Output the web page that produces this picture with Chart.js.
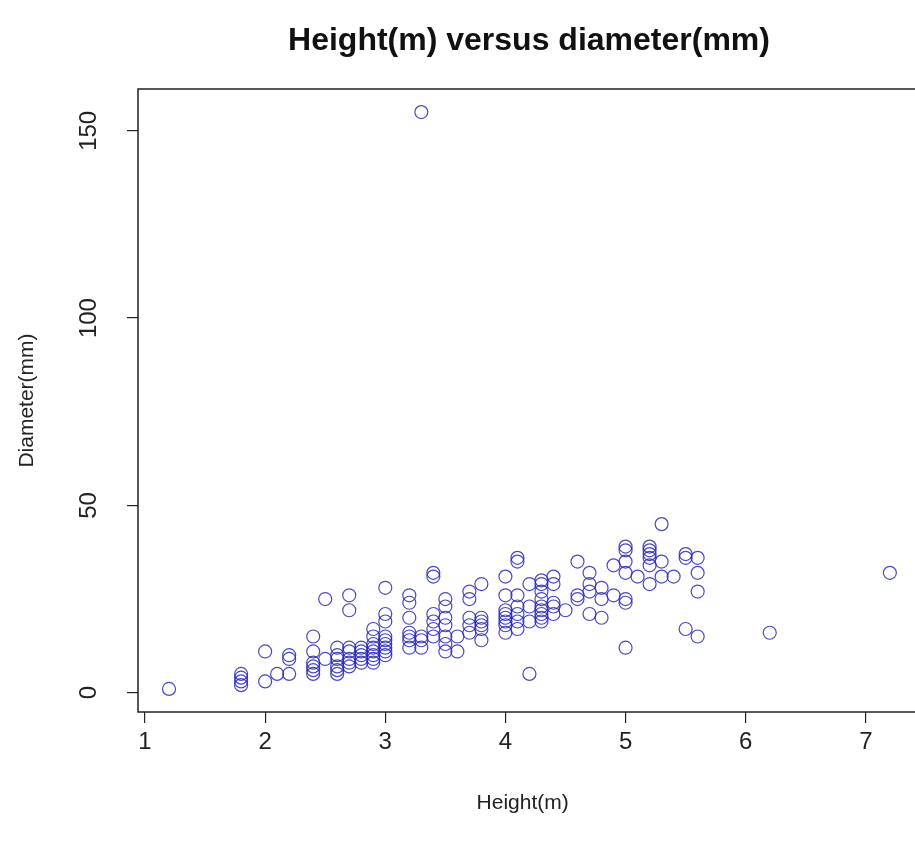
<!DOCTYPE html>
<html>
<head>
<meta charset="utf-8">
<script src="https://cdn.jsdelivr.net/npm/chart.js@4/dist/chart.umd.min.js"></script>
<style>
  html, body { margin: 0; padding: 0; background: #fff; overflow: hidden; }
  #wrap { width: 915px; height: 847px; }
</style>
</head>
<body>
<div id="wrap"><canvas id="plot"></canvas></div>
<script>
const heightM = [
    1.2,
    1.8, 1.8, 1.8, 1.8,
    2.0, 2.0,
    2.1,
    2.2, 2.2, 2.2,
    2.4, 2.4, 2.4, 2.4, 2.4, 2.4,
    2.5, 2.5,
    2.6, 2.6, 2.6, 2.6, 2.6, 2.6,
    2.7, 2.7, 2.7, 2.7, 2.7, 2.7, 2.7,
    2.8, 2.8, 2.8, 2.8, 2.8,
    2.9, 2.9, 2.9, 2.9, 2.9, 2.9, 2.9, 2.9,
    3.0, 3.0, 3.0, 3.0, 3.0, 3.0, 3.0, 3.0, 3.0,
    3.2, 3.2, 3.2, 3.2, 3.2, 3.2, 3.2,
    3.3, 3.3, 3.3, 3.3,
    3.4, 3.4, 3.4, 3.4, 3.4, 3.4,
    3.5, 3.5, 3.5, 3.5, 3.5, 3.5, 3.5,
    3.6, 3.6,
    3.7, 3.7, 3.7, 3.7, 3.7,
    3.8, 3.8, 3.8, 3.8, 3.8, 3.8,
    4.0, 4.0, 4.0, 4.0, 4.0, 4.0, 4.0, 4.0,
    4.1, 4.1, 4.1, 4.1, 4.1, 4.1, 4.1,
    4.2, 4.2, 4.2, 4.2,
    4.3, 4.3, 4.3, 4.3, 4.3, 4.3, 4.3, 4.3, 4.3,
    4.4, 4.4, 4.4, 4.4, 4.4,
    4.5,
    4.6, 4.6, 4.6,
    4.7, 4.7, 4.7, 4.7,
    4.8, 4.8, 4.8,
    4.9, 4.9,
    5.0, 5.0, 5.0, 5.0, 5.0, 5.0, 5.0,
    5.1,
    5.2, 5.2, 5.2, 5.2, 5.2, 5.2,
    5.3, 5.3, 5.3,
    5.4,
    5.5, 5.5, 5.5,
    5.6, 5.6, 5.6, 5.6,
    6.2,
    7.2
];

const diameterMm = [
    1,
    2, 3, 4, 5,
    11, 3,
    5,
    5, 9, 10,
    15, 11, 8, 7, 6, 5,
    25, 9,
    12, 10, 9, 7, 6, 5,
    26, 22, 12, 11, 9, 8, 7,
    12, 11, 10, 9, 8,
    17, 15, 13, 12, 11, 10, 9, 8,
    28, 21, 19, 15, 14, 13, 12, 11, 10,
    26, 24, 20, 16, 15, 14, 12,
    155, 15, 14, 12,
    32, 31, 21, 19, 17, 15,
    25, 23, 20, 18, 15, 13, 11,
    15, 11,
    27, 25, 20, 18, 16,
    29, 20, 19, 18, 17, 14,
    31, 26, 22, 21, 20, 19, 18, 16,
    36, 35, 26, 23, 21, 19, 17,
    29, 23, 19, 5,
    30, 29, 27, 25, 23, 22, 21, 20, 19,
    31, 29, 24, 23, 21,
    22,
    35, 26, 25,
    32, 29, 27, 21,
    28, 25, 20,
    34, 26,
    39, 38, 35, 32, 25, 24, 12,
    31,
    39, 38, 37, 36, 34, 29,
    45, 35, 31,
    31,
    37, 36, 17,
    36, 32, 27, 15,
    16,
    32
];

const xTickLabels = ['1', '2', '3', '4', '5', '6', '7'];
const yTickLabels = ['0', '50', '100', '150'];

const points = heightM.map((h, i) => ({ x: h, y: diameterMm[i] }));

const FONT = "'Liberation Sans', Arial, Helvetica, sans-serif";
const INK = '#222';

// title centred over the plot box, plus the box itself (base R look)
const rBox = {
    id: 'rBox',
    afterDraw(chart) {
        const { ctx, chartArea } = chart;
        ctx.save();
        ctx.strokeStyle = INK;
        ctx.lineWidth = 1.5;
        ctx.strokeRect(chartArea.left, chartArea.top, chartArea.right - chartArea.left + 20, chartArea.bottom - chartArea.top);
        ctx.fillStyle = '#111';
        ctx.font = 'bold 32px ' + FONT;
        ctx.textAlign = 'center';
        ctx.textBaseline = 'middle';
        ctx.fillText('Height(m) versus diameter(mm)', 529, 41);
        ctx.restore();
    }
};

new Chart(document.getElementById('plot'), {
    type: 'scatter',
    data: {
        datasets: [{
            label: 'Trees',
            data: points,
            pointStyle: 'circle',
            pointRadius: 6.5,
            pointHoverRadius: 6.5,
            pointBorderWidth: 1.2,
            pointBackgroundColor: 'rgba(0,0,0,0)',
            pointBorderColor: 'rgba(40,40,185,0.85)'
        }]
    },
    options: {
        responsive: true,
        maintainAspectRatio: false,
        animation: false,
        layout: { padding: { top: 89, right: 0, bottom: 0, left: 0 } },
        plugins: {
            legend: { display: false },
            tooltip: { enabled: false },
            title: { display: false }
        },
        scales: {
            x: {
                type: 'linear',
                min: 0.9418,
                max: 7.345,
                afterFit: s => { s.height = 135; },
                afterBuildTicks: s => { s.ticks = xTickLabels.map(v => ({ value: Number(v) })); },
                border: { display: false },
                grid: { drawOnChartArea: false, drawTicks: true, tickLength: 11, color: INK, lineWidth: 1.2 },
                ticks: { color: INK, font: { family: FONT, size: 24 }, padding: 5, maxRotation: 0 },
                title: {
                    display: true,
                    text: 'Height(m)',
                    color: INK,
                    font: { family: FONT, size: 21 },
                    padding: { bottom: 31 }
                }
            },
            y: {
                type: 'linear',
                min: -5.16,
                max: 161.16,
                afterFit: s => { s.width = 138; },
                afterBuildTicks: s => { s.ticks = yTickLabels.map(v => ({ value: Number(v) })); },
                border: { display: false },
                grid: { drawOnChartArea: false, drawTicks: true, tickLength: 11, color: INK, lineWidth: 1.2 },
                ticks: {
                    color: INK,
                    font: { family: FONT, size: 24 },
                    minRotation: 90,
                    maxRotation: 90,
                    crossAlign: 'center',
                    padding: 18
                },
                title: {
                    display: true,
                    text: 'Diameter(mm)',
                    color: INK,
                    font: { family: FONT, size: 21 },
                    padding: { top: 15 }
                }
            }
        }
    },
    plugins: [rBox]
});
</script>
</body>
</html>
